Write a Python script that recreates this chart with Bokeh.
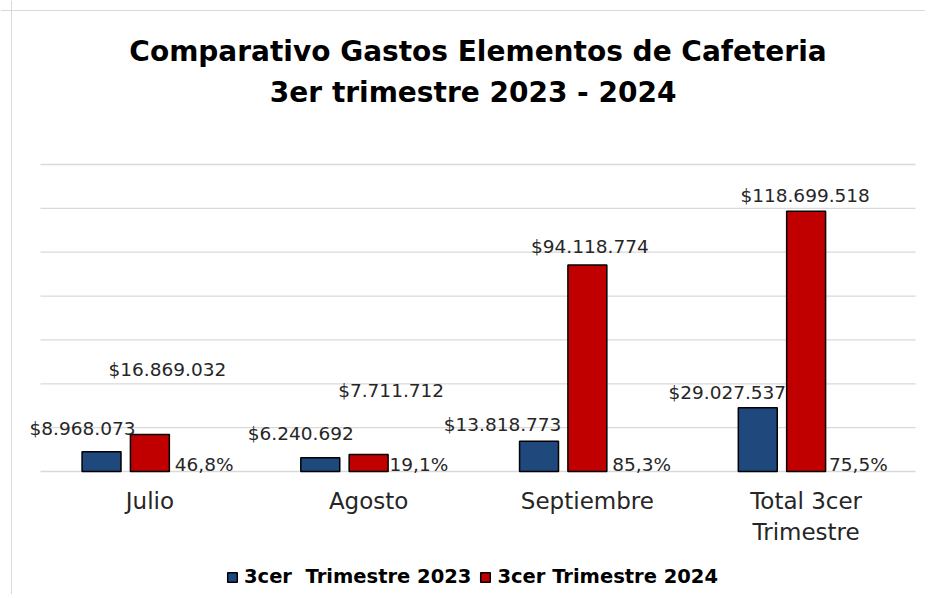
from bokeh.plotting import figure
from bokeh.models import (Range1d, Legend, LegendItem, ColumnDataSource, Span)
from bokeh.core.properties import value
from bokeh.embed import file_html
from bokeh.resources import INLINE

# ---- data -------------------------------------------------------------
categories = ["Julio", "Agosto", "Septiembre", "Total 3cer Trimestre"]
cat_line1 = ["Julio", "Agosto", "Septiembre", "Total 3cer"]
cat_line2 = ["", "", "", "Trimestre"]
gasto_2023 = [8968073, 6240692, 13818773, 29027537]
gasto_2024 = [16869032, 7711712, 94118774, 118699518]
variacion = ["46,8%", "19,1%", "85,3%", "75,5%"]
serie_variacion_valor = [0, 0, 0, 0]          # hidden third series (labels only)
grid_ticks = [0, 20000000, 40000000, 60000000, 80000000,
              100000000, 120000000, 140000000]
series_names = ["3cer  Trimestre 2023", "3cer Trimestre 2024"]
title_lines = ["Comparativo Gastos Elementos de Cafeteria", "3er  trimestre 2023 - 2024"]

# ---- label placement (pixels, manual offsets as in the original) ------
dx23 = [-19, -19.5, -36.5, -30.5]
dy23 = [-23, -24, -17, -15]
dx24 = [17.5, 22.5, 2.5, -1]
dy24 = [-65.5, -64, -18.5, -15.5]
dxp = [6, 2, 6, 4]
dyp = [-7.5, -7.5, -7.5, -7.5]

# ---- layout (pixels on the canvas) -------------------------------------
W_PX, H_PX = 925, 594
PLOT_LEFT, PLOT_RIGHT = 40, 915      # category band
BASE_PX, TOP_PX = 471, 164           # y=0 and y=140M
n = len(categories)
ux = (PLOT_RIGHT - PLOT_LEFT) / n
ymax = grid_ticks[-1]
uy = (BASE_PX - TOP_PX) / ymax
x_start = -PLOT_LEFT / ux
x_end = n + (W_PX - PLOT_RIGHT) / ux
y_end = ymax + TOP_PX / uy
y_start = -(H_PX - BASE_PX) / uy


def money(v):
    return "$" + f"{v:,}".replace(",", ".")


OFF = 0.221
W = 0.178
xc = [i + 0.5 for i in range(n)]

src = ColumnDataSource(dict(
    xc=xc, x23=[x - OFF for x in xc], x24=xc, xp=[x + OFF for x in xc],
    v23=gasto_2023, v24=gasto_2024,
    l23=[money(v) for v in gasto_2023], l24=[money(v) for v in gasto_2024],
    pct=variacion, pv=serie_variacion_valor,
    dx23=dx23, dy23=dy23, dx24=dx24, dy24=dy24, dxp=dxp, dyp=dyp,
    c1=cat_line1, c2=cat_line2, zero=serie_variacion_valor,
))

FONT = "DejaVu Sans"
BLUE = "#1F497D"
RED = "#C00000"
TXT = "#262626"
GRID = "#D9D9D9"

p = figure(width=W_PX, height=H_PX,
           x_range=Range1d(x_start, x_end), y_range=Range1d(y_start, y_end),
           title=None, output_backend="svg", toolbar_location=None,
           min_border_left=0, min_border_right=0, min_border_top=0,
           min_border_bottom=0)
p.xaxis.visible = False
p.yaxis.visible = False
p.grid.visible = False
p.outline_line_color = None
p.background_fill_color = "white"
p.border_fill_color = "white"

# chart-area border (top and left edges, as in the original frame)
p.add_layout(Span(location=x_start + 11 / ux, dimension="height",
                  line_color=GRID, line_width=1))
p.add_layout(Span(location=y_end - 10 / uy, dimension="width",
                  line_color=GRID, line_width=1))

# gridlines
p.segment(x0=[0] * len(grid_ticks), x1=[n] * len(grid_ticks),
          y0=grid_ticks, y1=grid_ticks, line_color=GRID, line_width=1.3)

# bars
r23 = p.vbar(x="x23", top="v23", width=W, source=src,
             fill_color=BLUE, line_color="black", line_width=1.5)
r24 = p.vbar(x="x24", top="v24", width=W, source=src,
             fill_color=RED, line_color="black", line_width=1.5)

# data labels
common = dict(text_align="center", text_baseline="middle", text_font=value(FONT),
              text_font_size="18.5px", text_color=TXT, source=src)
p.text(x="x23", y="v23", text="l23", x_offset="dx23", y_offset="dy23", **common)
p.text(x="x24", y="v24", text="l24", x_offset="dx24", y_offset="dy24", **common)
p.text(x="xp", y="pv", text="pct", x_offset="dxp", y_offset="dyp", **common)

# category labels
cat_style = dict(text_align="center", text_baseline="alphabetic", text_font=value(FONT),
                 text_font_size="23px", text_color=TXT, source=src)
p.text(x="xc", y="zero", text="c1", y_offset=29, **cat_style)
p.text(x="xc", y="zero", text="c2", y_offset=60, **cat_style)

# title
tsrc = ColumnDataSource(dict(x=[n / 2, n / 2], y=[y_end, y_end], t=title_lines,
                             dy=[51, 92]))
p.text(x="x", y="y", text="t", y_offset="dy", source=tsrc, text_align="center",
       text_baseline="alphabetic", text_font=value(FONT), text_font_style="bold",
       text_font_size="28px", text_color="black")

legend = Legend(items=[LegendItem(label=series_names[0], renderers=[r23]),
                       LegendItem(label=series_names[1], renderers=[r24])],
                orientation="horizontal", location=(226, 6),
                glyph_width=12, glyph_height=12, label_standoff=6, spacing=8,
                label_text_font=FONT, label_text_font_style="bold",
                label_text_font_size="19.5px", label_text_color="black",
                border_line_color=None, background_fill_alpha=0,
                padding=0, margin=0)
p.add_layout(legend)

open("out.html", "w").write(file_html(p, INLINE))
